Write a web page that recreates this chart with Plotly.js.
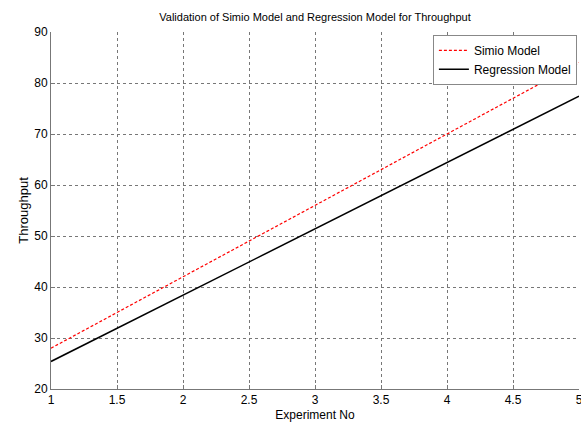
<!DOCTYPE html>
<html>
<head>
<meta charset="utf-8">
<script src="https://cdn.plot.ly/plotly-3.0.1.min.js"></script>
<style>html,body{margin:0;padding:0;background:#fff;}#chart{width:581px;height:423px;}</style>
</head>
<body>
<div id="chart"></div>
<script>
const experimentNo = [1, 2, 3, 4, 5];
const simioModel = [28.0, 42.0, 56.0, 70.0, 84.0];
const regressionModel = [25.4, 38.4, 51.4, 64.4, 77.4];
const xTicks = [1, 1.5, 2, 2.5, 3, 3.5, 4, 4.5, 5];
const yTicks = [20, 30, 40, 50, 60, 70, 80, 90];

const font = "Liberation Sans, Arial, sans-serif";
const traces = [
  {x: experimentNo, y: simioModel, mode: 'lines', name: 'Simio Model',
   line: {color: 'rgb(255,0,0)', width: 1.2, dash: '3px,2px'}},
  {x: experimentNo, y: regressionModel, mode: 'lines', name: 'Regression Model',
   line: {color: 'black', width: 1.5}}
];
const layout = {
  width: 581, height: 423,
  margin: {l: 51, r: 2, t: 32, b: 34},
  paper_bgcolor: '#fff', plot_bgcolor: '#fff',
  font: {family: font, size: 12, color: '#000'},
  title: {text: 'Validation of Simio Model and Regression Model for Throughput',
          font: {size: 11, family: font}, x: 0.5, xanchor: 'center', y: 0.96, yanchor: 'middle',
          xref: 'paper'},
  showlegend: true,
  legend: {x: 0.996, xanchor: 'right', y: 0.992, yanchor: 'top', bgcolor: '#fff',
           bordercolor: '#888', borderwidth: 1, font: {size: 12, family: font},
           tracegroupgap: 0, itemwidth: 30},
  xaxis: {range: [1, 5], tickvals: xTicks, ticktext: xTicks.map(String),
          showgrid: true, gridcolor: '#777', griddash: 'dot', gridwidth: 1,
          showline: true, linecolor: '#777', linewidth: 1, mirror: false,
          ticks: 'inside', ticklen: 4, tickcolor: '#777', zeroline: false,
          ticklabeloverflow: 'allow',
          tickfont: {size: 12},
          title: {text: 'Experiment No', font: {size: 12}, standoff: 4}},
  yaxis: {range: [20, 90], tickvals: yTicks, ticktext: yTicks.map(String),
          showgrid: true, gridcolor: '#777', griddash: 'dot', gridwidth: 1,
          showline: true, linecolor: '#777', linewidth: 1, mirror: false,
          ticks: 'inside', ticklen: 4, tickcolor: '#777', zeroline: false,
          ticklabeloverflow: 'allow',
          tickfont: {size: 12},
          title: {text: 'Throughput', font: {size: 13}, standoff: 2}}
};
Plotly.newPlot('chart', traces, layout, {displayModeBar: false, staticPlot: true});
</script>
</body>
</html>
